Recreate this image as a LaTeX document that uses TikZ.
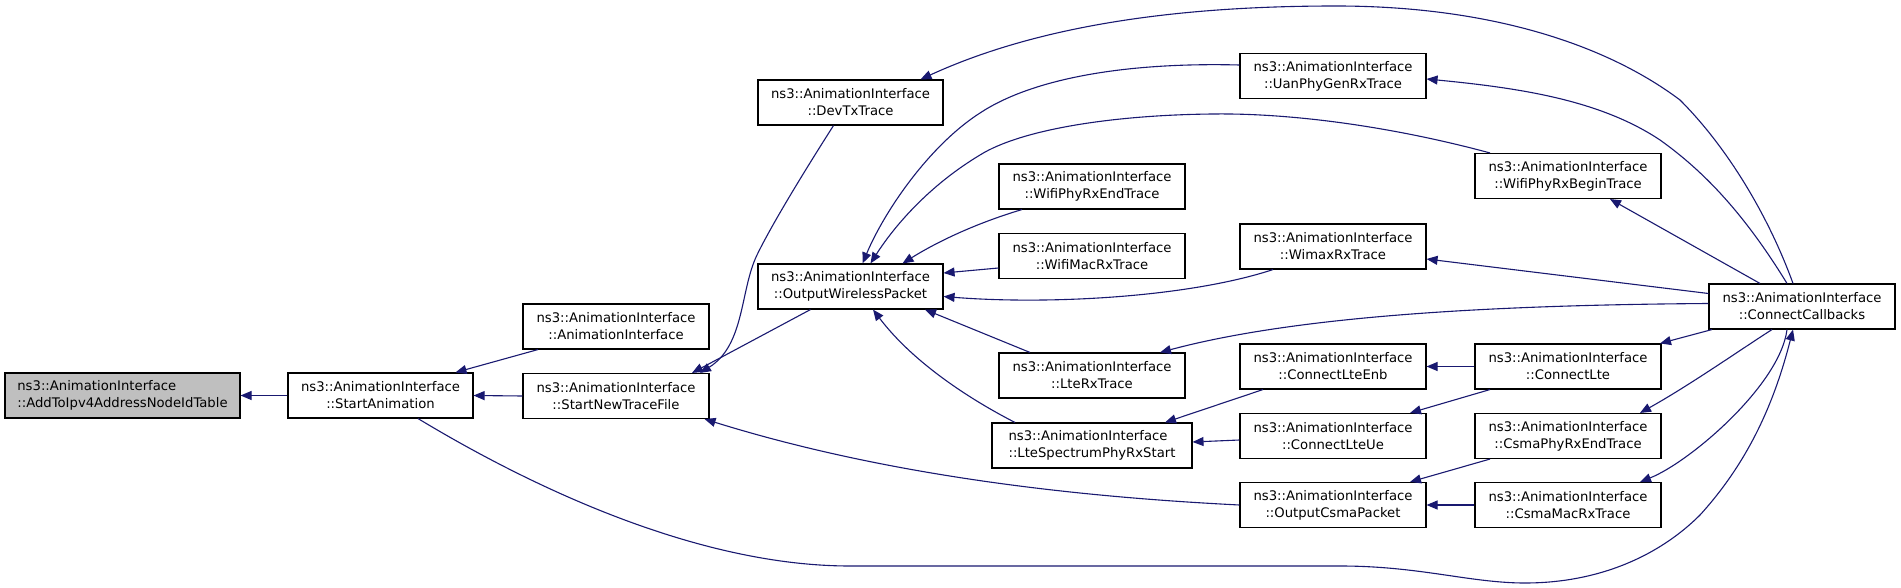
\documentclass[tikz,border=0pt]{standalone}
\usepackage{fontspec}
\setmainfont{DejaVu Sans}
\usetikzlibrary{arrows.meta}
\definecolor{edgec}{HTML}{191970}
\definecolor{selc}{HTML}{BFBFBF}
\begin{document}
\begin{tikzpicture}[x=1pt,y=-1pt,
  fn/.style={draw=black,line width=1.1pt,minimum height=45pt,minimum width=186pt,inner sep=0pt,align=center,font=\fontsize{13.2}{17}\selectfont},
  edge/.style={draw=edgec,line width=1.1pt,-{Triangle[length=11pt,width=9pt]}}]
\useasboundingbox (0,0) rectangle (1901,588);
% nodes
\node[fn,fill=selc,minimum width=235pt,align=left] (a) at (122.5,395.5) {ns3::AnimationInterface\\::AddToIpv4AddressNodeIdTable};
\node[fn,minimum width=185pt] (sa) at (380.5,395.5) {ns3::AnimationInterface\\::StartAnimation};
\node[fn] (ai) at (616,326.5) {ns3::AnimationInterface\\::AnimationInterface};
\node[fn] (sntf) at (616,396) {ns3::AnimationInterface\\::StartNewTraceFile};
\node[fn,minimum width=185pt] (devtx) at (850.5,102.5) {ns3::AnimationInterface\\::DevTxTrace};
\node[fn,minimum width=185pt] (owp) at (850.5,286.5) {ns3::AnimationInterface\\::OutputWirelessPacket};
\node[fn] (uan) at (1333,76) {ns3::AnimationInterface\\::UanPhyGenRxTrace};
\node[fn] (wpre) at (1092,186.5) {ns3::AnimationInterface\\::WifiPhyRxEndTrace};
\node[fn] (wmr) at (1092,256) {ns3::AnimationInterface\\::WifiMacRxTrace};
\node[fn] (wimax) at (1333,246.5) {ns3::AnimationInterface\\::WimaxRxTrace};
\node[fn] (lterx) at (1092,375.5) {ns3::AnimationInterface\\::LteRxTrace};
\node[fn] (enb) at (1333,366.5) {ns3::AnimationInterface\\::ConnectLteEnb};
\node[fn,minimum width=200pt,align=left] (ltes) at (1092,445.5) {ns3::AnimationInterface\\::LteSpectrumPhyRxStart};
\node[fn] (ue) at (1333,436) {ns3::AnimationInterface\\::ConnectLteUe};
\node[fn] (ocsma) at (1333,505) {ns3::AnimationInterface\\::OutputCsmaPacket};
\node[fn] (wprb) at (1568,176) {ns3::AnimationInterface\\::WifiPhyRxBeginTrace};
\node[fn] (cc) at (1802,306.5) {ns3::AnimationInterface\\::ConnectCallbacks};
\node[fn] (clte) at (1568,366.5) {ns3::AnimationInterface\\::ConnectLte};
\node[fn] (cpre) at (1568,436) {ns3::AnimationInterface\\::CsmaPhyRxEndTrace};
\node[fn] (cmr) at (1568,505) {ns3::AnimationInterface\\::CsmaMacRxTrace};
% edges
\draw[edge] (sa.west) -- (a.east);
\draw[edge] ([xshift=-78pt]ai.south) -- ([xshift=75pt]sa.north);
\draw[edge] (sntf.west) -- (sa.east);
\draw[edge] ([xshift=-17pt]devtx.south) .. controls (800,178) and (770,228) .. (757,255) .. controls (740,290) and (745,345) .. ([xshift=84pt]sntf.north);
\draw[edge] ([xshift=-40pt]owp.south) -- ([xshift=76pt]sntf.north);
\draw[edge] (ocsma.west) .. controls (1100,498) and (900,480) .. ([xshift=-5pt]sntf.south east);
\draw[edge] ([xshift=37.5pt]sa.south) .. controls (500,468) and (680,566) .. (850,566) -- (1340,566) .. controls (1420,566) and (1470,583) .. (1525,583) .. controls (1600,583) and (1660,555) .. (1700,515) .. controls (1750,460) and (1775,400) .. ([xshift=-9pt]cc.south);
% into OutputWirelessPacket
\draw[edge] ([yshift=11pt]uan.west) .. controls (1120,62) and (1030,80) .. (980,113) .. controls (930,145) and (885,210) .. ([xshift=12pt]owp.north);
\draw[edge] ([xshift=-78pt]wprb.north) .. controls (1390,126) and (1290,113) .. (1213,114) .. controls (1110,115) and (1020,130) .. (980,155) .. controls (930,185) and (895,225) .. ([xshift=20pt]owp.north);
\draw[edge] ([xshift=-70pt]wpre.south) .. controls (980,222) and (940,240) .. ([xshift=52pt]owp.north);
\draw[edge] ([yshift=-12pt]wmr.west) -- ([yshift=13.5pt]owp.east);
\draw[edge] ([xshift=-60pt]wimax.south) .. controls (1190,297) and (1050,305) .. ([yshift=-10pt]owp.east);
\draw[edge] ([xshift=-62pt]lterx.north) -- ([xshift=74.5pt]owp.south);
\draw[edge] ([xshift=-77pt]ltes.north) .. controls (975,402) and (915,365) .. ([xshift=22.5pt]owp.south);
% from ConnectCallbacks
\draw[edge] ([xshift=-9pt]cc.north) .. controls (1770,220) and (1730,150) .. (1680,100) .. controls (1600,40) and (1480,6) .. (1336,6) .. controls (1200,6) and (1050,20) .. ([xshift=70pt]devtx.north);
\draw[edge] ([xshift=-15pt]cc.north) .. controls (1745,215) and (1705,172) .. (1660,140) .. controls (1600,100) and (1520,88) .. ([yshift=-3pt]uan.east);
\draw[edge] ([xshift=-42pt]cc.north) -- ([xshift=42pt]wprb.south);
\draw[edge] ([yshift=13pt]cc.west) -- ([yshift=-12.5pt]wimax.east);
\draw[edge] ([yshift=3pt]cc.west) .. controls (1500,305) and (1300,315) .. ([xshift=68pt]lterx.north);
\draw[edge] ([xshift=-90pt]cc.south) -- ([xshift=92pt]clte.north);
\draw[edge] ([xshift=-30pt]cc.south) .. controls (1740,350) and (1690,385) .. ([xshift=72pt]cpre.north);
\draw[edge] ([xshift=-15pt]cc.south) .. controls (1780,385) and (1690,462) .. ([xshift=72pt]cmr.north);
% others
\draw[edge] (clte.west) -- (enb.east);
\draw[edge] ([xshift=-78pt]clte.south) -- ([xshift=77pt]ue.north);
\draw[edge] ([xshift=-70pt]enb.south) -- ([xshift=73pt]ltes.north);
\draw[edge] ([yshift=-4pt]ue.west) -- ([yshift=3.5pt]ltes.east);
\draw[edge] ([xshift=-78pt]cpre.south) -- ([xshift=77pt]ocsma.north);
\draw[edge] (cmr.west) -- (ocsma.east);
\end{tikzpicture}
\end{document}
